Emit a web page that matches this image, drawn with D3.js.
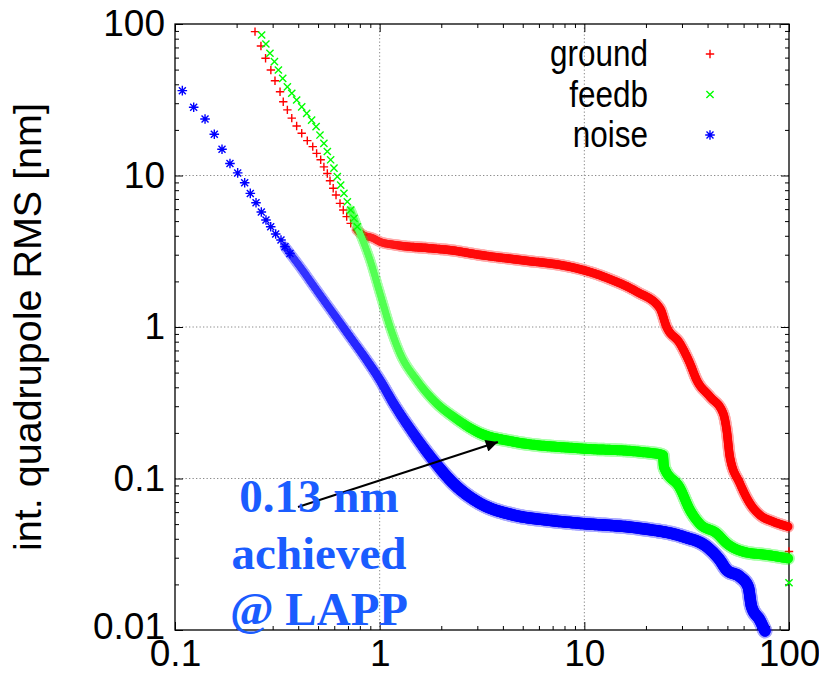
<!DOCTYPE html>
<html><head><meta charset="utf-8">
<script src="https://cdn.jsdelivr.net/npm/d3@7"></script>
<style>body{margin:0;background:#fff}svg{display:block}</style>
</head><body><svg id="c" width="819" height="688"></svg>
<script>
// ---------------- data ----------------
const xMajor = [0.1, 1, 10, 100];
const xLabels = ["0.1", "1", "10", "100"];
const yMajor = [0.01, 0.1, 1, 10, 100];
const yLabels = ["0.01", "0.1", "1", "10", "100"];
const seriesNames = ["ground", "feedb", "noise"];

const groundF = [0.246,0.263,0.277,0.294,0.308,0.326,0.338,0.354,0.372,0.393,0.416,0.443,0.471,0.492,0.515,0.534,0.555,0.572,0.593,0.612,0.640,0.664,0.690,0.722,0.772,0.832,0.931,1.00,1.19,1.76,2.19,3.09,5.42,7.60,10.07,13.34,18.02,23.4,25.2,29.3,32.8,35.4,41.1,47.7,49.6,51.4,57.5,64.4,72.1,83.7,99.1,100];
const groundV = [89.0,71.6,59.4,49.7,42.2,35.7,30.7,27.1,23.9,21.2,19.0,17.0,15.5,14.0,12.7,11.4,10.3,9.24,8.23,7.43,6.55,5.92,5.35,4.83,4.37,4.05,3.85,3.66,3.48,3.31,3.22,2.99,2.72,2.57,2.36,2.07,1.71,1.33,1.005,0.78,0.576,0.447,0.347,0.269,0.209,0.139,0.093,0.0686,0.0574,0.0519,0.0481,0.033];

const feedbF = [0.265,0.278,0.291,0.306,0.320,0.336,0.354,0.372,0.393,0.416,0.440,0.465,0.489,0.511,0.534,0.555,0.576,0.598,0.621,0.645,0.669,0.695,0.722,0.749,0.777,0.807,0.838,0.897,1.003,1.123,1.257,1.516,1.899,2.289,3.09,4.50,9.51,18.69,24.2,24.5,29.3,32.8,36.7,44.3,49.6,59.7,77.8,99.1,100];
const feedbV = [84.6,73.8,64.1,56.4,49.7,43.8,38.5,34.9,31.5,28.4,25.7,23.2,21.0,18.5,16.3,14.4,12.7,11.2,9.82,8.65,7.63,6.71,5.92,5.22,4.59,4.05,3.57,2.77,1.67,1.005,0.670,0.447,0.313,0.256,0.199,0.175,0.158,0.150,0.143,0.119,0.0866,0.0620,0.0501,0.0435,0.0373,0.0329,0.0313,0.0297,0.0205];

const noiseF = [0.1086,0.1234,0.1402,0.1556,0.1697,0.1856,0.2024,0.2190,0.2333,0.2488,0.2641,0.2783,0.2935,0.3104,0.3295,0.3446,0.3645,0.408,0.492,0.593,0.716,0.864,1.003,1.165,1.459,1.828,2.289,3.09,4.50,6.54,9.51,18.69,30.4,39.6,45.9,49.6,57.5,63.2,65.6,72.1,76.3];
const noiseV = [36.3,28.2,23.6,18.7,14.9,12.0,10.4,8.96,7.62,6.61,5.74,5.08,4.59,4.11,3.75,3.39,3.06,2.50,1.75,1.23,0.863,0.605,0.447,0.315,0.199,0.132,0.093,0.0686,0.0574,0.0532,0.0506,0.0469,0.0413,0.0355,0.0290,0.0249,0.0225,0.0193,0.0143,0.0116,0.00985];

const noteLines = ["0.13 nm", "achieved", "@ LAPP"];
const arrowFrom = [0.399, 0.0649];
const arrowTo = [3.78, 0.174];

// ---------------- layout / style ----------------
const L = 175, R = 789, T = 24, B = 630;
const svg = d3.select("#c");
const x = d3.scaleLog().domain([0.1, 100]).range([L, R]);
const y = d3.scaleLog().domain([0.01, 100]).range([B, T]);
const FONT = "'Liberation Sans', Arial, Helvetica, sans-serif";

// dense part drawn as a band; width / lightness vary smoothly with frequency (style only)
const series = [
  {name: seriesNames[0], F: groundF, V: groundV, color: "#ff0000", sym: "M-4.2,0H4.2M0,-4.2V4.2",
   band: [0.76, 99.5], stops: [0.76, 1.5, 100], widths: [10.5, 12, 12], light: [0.15, 0.05, 0], markTo: 0.85},
  {name: seriesNames[1], F: feedbF, V: feedbV, color: "#00ff00", sym: "M-3.6,-3.6L3.6,3.6M-3.6,3.6L3.6,-3.6",
   band: [0.72, 99.5], stops: [0.72, 1.4, 3.2, 100], widths: [10, 10.5, 13.5, 13.5], light: [0.35, 0.3, 0, 0], markTo: 0.8},
  {name: seriesNames[2], F: noiseF, V: noiseV, color: "#0000ff", sym: "M-4.8,0H4.8M0,-4.8V4.8M-3.5,-3.5L3.5,3.5M-3.5,3.5L3.5,-3.5",
   band: [0.33, 200], stops: [0.33, 0.8, 2.2, 100], widths: [10.5, 11.5, 15, 15], light: [0.22, 0.15, 0, 0], markTo: 0.37}
];

// grid
const grid = svg.append("g").attr("stroke", "#8a8a8a").attr("stroke-width", 1).attr("stroke-dasharray", "1.3,2.2");
grid.selectAll("line.gx").data(xMajor.filter(d => d > 0.1 && d < 100)).join("line")
  .attr("x1", d => x(d)).attr("x2", d => x(d)).attr("y1", T).attr("y2", B);
grid.selectAll("line.gy").data(yMajor.filter(d => d > 0.01 && d < 100)).join("line")
  .attr("y1", d => y(d)).attr("y2", d => y(d)).attr("x1", L).attr("x2", R);

// axes (ticks inward on all four sides)
function styleAxis(g) {
  g.select(".domain").remove();
  g.selectAll(".tick line").attr("stroke", "#000").attr("stroke-width", 1);
  g.selectAll("text").attr("font-family", FONT).attr("font-size", 37).attr("fill", "#000");
}
const xMinor = x.ticks().filter(d => !xMajor.some(m => Math.abs(m - d) / d < 1e-9));
const yMinor = y.ticks().filter(d => !yMajor.some(m => Math.abs(m - d) / d < 1e-9));

svg.append("g").attr("transform", `translate(0,${B})`)
  .call(d3.axisBottom(x).tickValues(xMinor).tickSizeInner(-4).tickSizeOuter(0).tickFormat(() => "")).call(styleAxis);
svg.append("g").attr("transform", `translate(0,${B})`)
  .call(d3.axisBottom(x).tickValues(xMajor).tickSizeInner(-8).tickSizeOuter(0).tickPadding(10)
    .tickFormat((d, i) => xLabels[i])).call(styleAxis);
svg.append("g").attr("transform", `translate(0,${T})`)
  .call(d3.axisTop(x).tickValues(xMinor).tickSizeInner(-4).tickSizeOuter(0).tickFormat(() => "")).call(styleAxis);
svg.append("g").attr("transform", `translate(0,${T})`)
  .call(d3.axisTop(x).tickValues(xMajor).tickSizeInner(-8).tickSizeOuter(0).tickFormat(() => "")).call(styleAxis);

svg.append("g").attr("transform", `translate(${L},0)`)
  .call(d3.axisLeft(y).tickValues(yMinor).tickSizeInner(-4).tickSizeOuter(0).tickFormat(() => "")).call(styleAxis);
svg.append("g").attr("transform", `translate(${L},0)`)
  .call(d3.axisLeft(y).tickValues(yMajor).tickSizeInner(-8).tickSizeOuter(0).tickPadding(10)
    .tickFormat((d, i) => yLabels[i])).call(styleAxis)
  .selectAll("text").attr("dy", (d, i) => i === 0 ? "0.22em" : "0.32em");
svg.append("g").attr("transform", `translate(${R},0)`)
  .call(d3.axisRight(y).tickValues(yMinor).tickSizeInner(-4).tickSizeOuter(0).tickFormat(() => "")).call(styleAxis);
svg.append("g").attr("transform", `translate(${R},0)`)
  .call(d3.axisRight(y).tickValues(yMajor).tickSizeInner(-8).tickSizeOuter(0).tickFormat(() => "")).call(styleAxis);

// frame
svg.append("rect").attr("x", L).attr("y", T).attr("width", R - L).attr("height", B - T)
  .attr("fill", "none").attr("stroke", "#000").attr("stroke-width", 1.3);

// y label
svg.append("text").attr("transform", `translate(41,${(T + B) / 2}) rotate(-90)`)
  .attr("text-anchor", "middle").attr("font-family", FONT).attr("font-size", 39.5)
  .text("int. quadrupole RMS [nm]");

// data
const line = d3.line().x(d => x(d[0])).y(d => y(d[1])).curve(d3.curveMonotoneX);
series.forEach(s => {
  const pts = s.F.map((f, i) => [f, s.V[i]]);
  const g = svg.append("g");
  const band = pts.filter(p => p[0] >= s.band[0] && p[0] <= s.band[1]);
  const guide = g.append("path").attr("d", line(band)).attr("fill", "none").attr("stroke", "none").node();
  const len = guide.getTotalLength();
  const samples = [];
  for (let l = 0; l <= len; l += 2) samples.push(guide.getPointAtLength(l));
  samples.push(guide.getPointAtLength(len));
  guide.remove();
  const wS = d3.scaleLog().domain(s.stops).range(s.widths).clamp(true);
  const lS = d3.scaleLog().domain(s.stops).range(s.light).clamp(true);
  const segs = d3.pairs(samples).map(([a, b]) => ({a, b, f: x.invert((a.x + b.x) / 2)}));
  const halo = g.append("g").attr("opacity", 0.33);
  halo.selectAll("line").data(segs).join("line")
    .attr("x1", d => d.a.x).attr("y1", d => d.a.y).attr("x2", d => d.b.x).attr("y2", d => d.b.y)
    .attr("stroke", s.color).attr("stroke-width", d => wS(d.f)).attr("stroke-linecap", "round");
  const core = g.append("g");
  core.selectAll("line").data(segs).join("line")
    .attr("x1", d => d.a.x).attr("y1", d => d.a.y).attr("x2", d => d.b.x).attr("y2", d => d.b.y)
    .attr("stroke", d => d3.interpolateRgb(s.color, "#ffffff")(lS(d.f)))
    .attr("stroke-width", d => wS(d.f) - 3.5).attr("stroke-linecap", "round");
  g.selectAll("path.m").data(pts.filter(p => p[0] < s.markTo || p[0] > 99.5)).join("path").attr("class", "m")
    .attr("transform", d => `translate(${x(d[0])},${y(d[1])})`)
    .attr("d", s.sym).attr("fill", "none").attr("stroke", s.color).attr("stroke-width", 1.4);
});

// legend
const leg = svg.append("g");
series.forEach((s, i) => {
  const yy = 54 + i * 40.5;
  leg.append("text").attr("x", 648).attr("y", yy + 12.5).attr("text-anchor", "end")
    .attr("font-family", FONT).attr("font-size", 37)
    .attr("transform", `translate(648,0) scale(0.85,1) translate(-648,0)`).text(s.name);
  leg.append("path").attr("transform", `translate(710,${yy})`).attr("d", s.sym)
    .attr("fill", "none").attr("stroke", s.color).attr("stroke-width", 1.4);
});

// annotation arrow
svg.append("defs").append("marker").attr("id", "ah").attr("viewBox", "0 0 10 10")
  .attr("refX", 10).attr("refY", 5).attr("markerWidth", 16).attr("markerHeight", 12)
  .attr("markerUnits", "userSpaceOnUse").attr("orient", "auto")
  .append("path").attr("d", "M0,0L10,5L0,10Z").attr("fill", "#000");
svg.append("line").attr("x1", x(arrowFrom[0])).attr("y1", y(arrowFrom[1]))
  .attr("x2", x(arrowTo[0])).attr("y2", y(arrowTo[1]))
  .attr("stroke", "#000").attr("stroke-width", 2).attr("marker-end", "url(#ah)");

// annotation text
noteLines.forEach((t, i) => {
  svg.append("text").attr("x", 319).attr("y", 512 + i * 56.5).attr("text-anchor", "middle")
    .attr("font-family", "'Liberation Serif', 'Times New Roman', serif").attr("font-weight", "bold")
    .attr("font-size", 47).attr("fill", "#1a5cff").text(t);
});
</script></body></html>
